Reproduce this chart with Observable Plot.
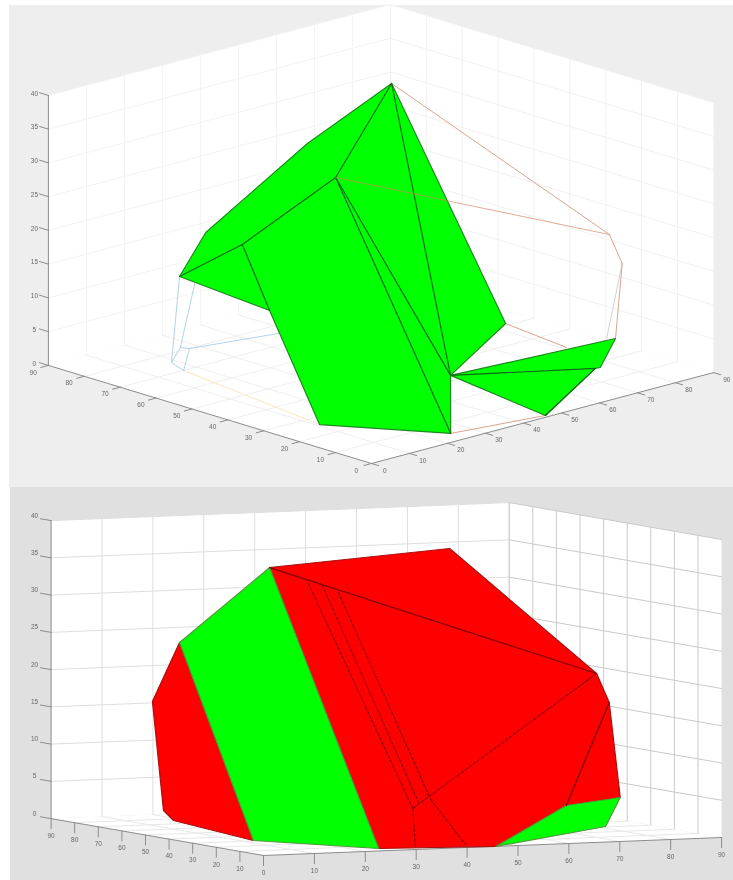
<!DOCTYPE html>
<html>
<head>
<meta charset="utf-8">
<script src="https://cdn.jsdelivr.net/npm/d3@7"></script>
<script src="https://cdn.jsdelivr.net/npm/@observablehq/plot@0.6"></script>
<style>
html,body{margin:0;padding:0;background:#fff;}
svg{display:block;filter:blur(0.55px);}
</style>
</head>
<body>
<div id="chart"></div>
<script>
// Axis ticks (data units)
const xyTicks = [0,10,20,30,40,50,60,70,80,90];
const zTicks = [0,5,10,15,20,25,30,35,40];

// Upper view: polytope vertices (data units)
const upperNames = ["A","B","C","C2","D","E","F","G","H","I","J","K","M","N","P","Q","R","S","T","U","V","W","X","Y","Z"];
const upperX = [59.9,24.2,12.7,11.6,21.1,45.3,20.7,19.0,10.7,25.0,36.2,52.3,76.4,67.1,66.0,46.6,76.8,80.8,75.2,65.4,18.6,16.6,26.8,27.6,37.7];
const upperY = [57.8,35.6,66.9,61.5,68.5,65.8,57.9,48.5,25.8,4.4,16.3,18.0,12.9,7.3,7.5,0.9,15.0,15.7,14.1,14.9,75.4,69.9,81.6,79.9,65.8];
const upperZ = [38,33,15,15,20,30,20,12,0,0,5,10,5,3,3,0,20,15,5,5,0,0,0,0,3];
const upperGreen = [["A","K","J","I","H","G","C","D","E"],["J","M","N","P","Q"]];
const upperInner = [["A","B"],["A","J"],["B","J"],["B","I"],["B","F"],["F","C"],["F","G"],["J","P"],["P","Q"]];
const upperRedHidden = [["A","R"],["R","S"],["S","M"],["K","U"],["Q","I"]];
const upperGreyHidden = [["S","T"]];
const upperBlueHidden = [["C","V"],["C2","X"],["V","X"],["V","W"],["W","Y"],["X","Y"],["Y","Z"]];
const upperYellowHidden = [["W","H"]];
const upperThrough = [["B","R"]];

// Lower view: polytope vertices (data units)
const lowerNames = ["a","b","c","d","e","f","g","h","i","k","l","m","n","o","p","q","r","s","t1","t2","t3","u2"];
const lowerX = [26.1,65.6,83.8,79.7,76.3,67.8,45.7,24.9,12.2,17.9,18.6,14.3,18.1,74.0,32.9,31.7,37.2,42.5,31.3,31.7,27.8,32.5];
const lowerY = [53.7,62.6,39.6,25.4,13.4,1.3,0.0,4.9,30.6,76.7,82.5,77.9,74.6,31.3,7.7,4.0,9.4,6.1,48.5,43.4,28.2,4.4];
const lowerZ = [35,36,20,17,5,2,0,0,0,0,1,16,24,3,5,0,6,0,33,33,33,6];
const lowerRed = [["a","b","c","d","e","o","g","h"],["n","i","k","l","m"]];
const lowerGreen = [["n","a","h","i"],["e","f","g","o"]];
const lowerSolid = [["a","c"],["d","o"]];
const lowerDashed = [["t1","p"],["t2","u2"],["t3","r"],["p","q"],["r","s"],["p","c"]];

// Projections of the two views (screen units per data unit)
const upperView = {ox:371,oy:463,xx:3.8,xy:-1.01,yx:-3.59,yy:-1.09,zy:-6.75};
const lowerView = {ox:263,oy:855,xx:5.09,xy:-0.2,yx:-2.36,yy:-0.41,zy:-7.45};
const frames = [
  {x1:9,x2:733,y1:5,y2:487,fill:"#eeeeee"},
  {x1:10,x2:733,y1:487,y2:880,fill:"#e0e0e0"}
];

const proj = (v,[x,y,z]) => ({sx:v.ox+v.xx*x+v.yx*y, sy:v.oy+v.xy*x+v.yy*y+v.zy*z});
const lookup = (names,X,Y,Z) => Object.fromEntries(names.map((n,i)=>[n,[X[i],Y[i],Z[i]]]));
const U = lookup(upperNames,upperX,upperY,upperZ);
const L = lookup(lowerNames,lowerX,lowerY,lowerZ);

let uid = 0;
function rows(v, paths){
  return paths.flatMap(p => { const id = uid++; return p.map(q => ({...proj(v,q), id})); });
}
const path = (v, paths, opts) => Plot.line(rows(v,paths), {x:"sx",y:"sy",z:"id",curve:"linear",strokeLinejoin:"round",...opts});
const named = (T, list, close=false) => list.map(e => (close?[...e,e[0]]:e).map(n => T[n]));

function scene(v, s){
  const inner = xyTicks.slice(1,-1), zIn = zTicks.slice(1);
  const M = 90, Z = 40;
  const marks = [];
  marks.push(path(v, [[[0,M,0],[M,M,0],[M,M,Z],[0,M,Z],[0,M,0]],
                      [[M,0,0],[M,M,0],[M,M,Z],[M,0,Z],[M,0,0]],
                      [[0,0,0],[M,0,0],[M,M,0],[0,M,0],[0,0,0]]], {fill:"#ffffff",stroke:"none"}));
  marks.push(path(v, inner.map(x=>[[x,M,0],[x,M,Z]]).concat(zIn.map(z=>[[0,M,z],[M,M,z]])).concat([[[M,M,0],[M,M,Z]]]), {stroke:s.gridLeft,strokeWidth:s.gridW}));
  marks.push(path(v, inner.map(y=>[[M,y,0],[M,y,Z]]).concat(zIn.map(z=>[[M,0,z],[M,M,z]])).concat([[[M,M,0],[M,M,Z]]]), {stroke:s.gridRight,strokeWidth:s.gridW}));
  marks.push(path(v, inner.map(x=>[[x,0,0],[x,M,0]]).concat(inner.map(y=>[[0,y,0],[M,y,0]])), {stroke:s.gridFloor,strokeWidth:s.gridW}));
  // axes and ticks
  const ax = [[[0,M,0],[0,M,Z]],[[0,0,0],[0,M,0]],[[0,0,0],[M,0,0]]];
  const tk = zTicks.map(z=>[[0,M,z],[0,M+s.zTick,z]])
    .concat(xyTicks.map(y=>[[0,y,0],[s.yTick[0],y,s.yTick[1]]]))
    .concat(xyTicks.map(x=>[[x,0,0],[x,s.xTick[0],s.xTick[1]]]));
  marks.push(path(v, ax.concat(tk), {stroke:"#8c8c8c",strokeWidth:1}));
  // tick labels
  const lab = zTicks.map(z=>({...proj(v,[0,M+s.zLab[0],z+s.zLab[1]]),t:String(z)}))
    .concat(xyTicks.map(y=>({...proj(v,[s.yLab[0],y,s.yLab[1]]),t:String(y)})))
    .concat(xyTicks.slice(s.xLabFrom).map(x=>({...proj(v,[x,s.xLab[0],s.xLab[1]]),t:String(x)})));
  marks.push(Plot.text(lab,{x:"sx",y:"sy",text:"t",fontSize:6.5,fill:"#666666",fontFamily:"Liberation Sans, Arial, sans-serif"}));
  return marks;
}

const upperStyle = {gridLeft:"#f3f3f3",gridRight:"#f1f1f1",gridFloor:"#efefef",gridW:1,zTick:2.5,yTick:[-2,0],xTick:[-2,0],
  zLab:[3.9,-0.35],yLab:[-4,-0.45],xLab:[-3.7,-0.45],xLabFrom:0};
const lowerStyle = {gridLeft:"#dedede",gridRight:"#cacaca",gridFloor:"#e8e8e8",gridW:1,zTick:4.5,yTick:[0,-1.35],xTick:[0,-1.35],
  zLab:[7,0.3],yLab:[0,-2.3],xLab:[0,-2.3],xLabFrom:1};

const marks = [
  Plot.rect(frames,{x1:"x1",x2:"x2",y1:"y1",y2:"y2",fill:"fill"}),
  ...scene(upperView,upperStyle),
  // upper hidden wireframe
  path(upperView,named(U,upperYellowHidden),{stroke:"#f6e7c0",strokeWidth:1}),
  path(upperView,named(U,upperGreyHidden),{stroke:"#d8cfcf",strokeWidth:1}),
  path(upperView,named(U,upperBlueHidden),{stroke:"#b4d3e4",strokeWidth:1}),
  path(upperView,named(U,upperRedHidden),{stroke:"#dba493",strokeWidth:1}),
  // upper faces
  path(upperView,named(U,upperGreen,true),{fill:"#00ff00",stroke:"#1c8a1c",strokeWidth:1.2}),
  path(upperView,named(U,upperInner),{stroke:"#0b6a14",strokeWidth:1.2}),
  path(upperView,named(U,upperThrough),{stroke:"#d9805f",strokeWidth:1,strokeOpacity:0.65}),
  ...scene(lowerView,lowerStyle),
  // lower faces
  path(lowerView,named(L,lowerRed,true),{fill:"#ff0000",stroke:"#a81010",strokeWidth:1.2}),
  path(lowerView,named(L,lowerGreen,true),{fill:"#00ff00",stroke:"#4f9a3c",strokeWidth:1.2}),
  path(lowerView,named(L,lowerSolid),{stroke:"#800000",strokeWidth:1.3}),
  path(lowerView,named(L,lowerDashed),{stroke:"#8a0000",strokeWidth:1.1,strokeDasharray:"3,2"})
];

const chart = Plot.plot({
  width:733,height:880,margin:0,
  x:{domain:[0,733],range:[0,733],axis:null},
  y:{domain:[0,880],range:[0,880],axis:null},
  style:{background:"transparent"},
  marks
});
document.getElementById("chart").append(chart);
</script>
</body>
</html>
